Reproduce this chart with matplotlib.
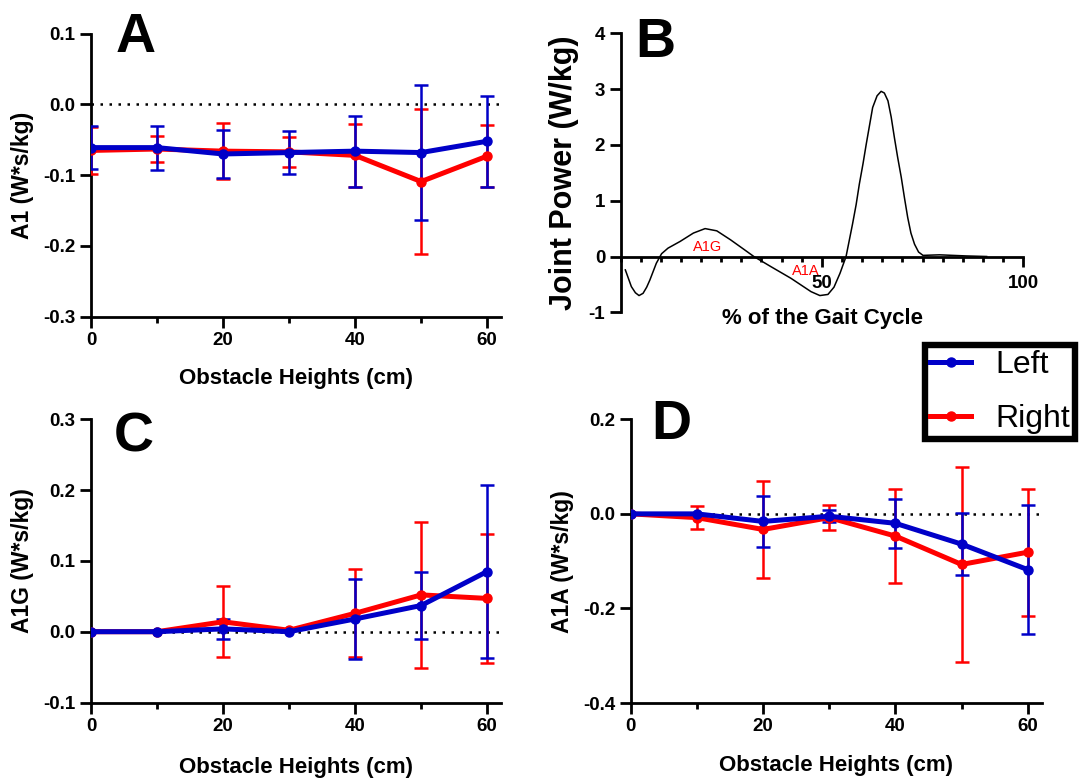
import matplotlib
matplotlib.use('Agg')
import matplotlib.pyplot as plt
from matplotlib.ticker import MultipleLocator, FormatStrFormatter

plt.rcParams['font.family'] = ['Liberation Sans', 'DejaVu Sans']
plt.rcParams['font.weight'] = 'bold'
plt.rcParams['axes.unicode_minus'] = False

# Obstacle heights (cm)
heights = [0, 10, 20, 30, 40, 50, 60]

# A1 ankle work (mean, SD)
a1_left = [-0.061, -0.061, -0.070, -0.068, -0.066, -0.068, -0.052]
a1_left_sd = [0.030, 0.031, 0.034, 0.031, 0.050, 0.095, 0.064]
a1_right = [-0.065, -0.063, -0.066, -0.067, -0.072, -0.109, -0.073]
a1_right_sd = [0.033, 0.018, 0.040, 0.021, 0.044, 0.103, 0.044]

# A1G generation phase
a1g_left = [0.0, 0.0, 0.004, 0.0, 0.018, 0.037, 0.085]
a1g_left_sd = [0.0, 0.0, 0.014, 0.0, 0.057, 0.047, 0.122]
a1g_right = [0.0, 0.0, 0.014, 0.002, 0.026, 0.052, 0.047]
a1g_right_sd = [0.0, 0.0, 0.050, 0.0, 0.062, 0.103, 0.091]

# A1A absorption phase
a1a_left = [0.0, 0.0, -0.016, -0.005, -0.020, -0.064, -0.118]
a1a_left_sd = [0.0, 0.0, 0.054, 0.013, 0.052, 0.066, 0.136]
a1a_right = [0.0, -0.008, -0.033, -0.008, -0.047, -0.107, -0.081]
a1a_right_sd = [0.0, 0.025, 0.103, 0.027, 0.099, 0.207, 0.134]

# Typical ankle joint power over the gait cycle
gait_pct = [1.2, 2.7, 3.7, 4.6, 5.6, 6.5, 7.3, 8.9, 10.2, 11.8, 14.8, 18.1,
            21.0, 23.9, 27.3, 30.6, 33.1, 37.3, 42.3, 47.3, 49.5, 51.5, 53.0,
            54.5, 56.0, 57.6, 58.5, 59.3, 60.2, 61.0, 62.6, 63.7, 64.7, 65.5,
            66.4, 67.2, 68.0, 68.8, 69.7, 70.5, 71.3, 72.1, 73.0, 74.0, 75.1,
            79.2, 85.9, 90.9]
joint_power = [-0.24, -0.54, -0.65, -0.70, -0.66, -0.55, -0.42, -0.12, 0.05,
               0.15, 0.27, 0.42, 0.50, 0.46, 0.30, 0.13, 0.0, -0.18, -0.39,
               -0.63, -0.70, -0.68, -0.55, -0.30, 0.0, 0.58, 0.93, 1.30, 1.66,
               2.01, 2.67, 2.88, 2.96, 2.93, 2.79, 2.50, 2.13, 1.78, 1.42,
               1.05, 0.70, 0.42, 0.22, 0.08, 0.02, 0.03, 0.01, 0.0]

BLUE = '#0000C8'
RED = '#FF0000'
W, H = 1079, 779

fig = plt.figure(figsize=(W / 100, H / 100), dpi=100)


def box(x0, x1, ytop, ybot):
    return [x0 / W, 1 - ybot / H, (x1 - x0) / W, (ybot - ytop) / H]


def style_axes(ax):
    for side in ['top', 'right']:
        ax.spines[side].set_visible(False)
    for side in ['left', 'bottom']:
        ax.spines[side].set_linewidth(2)
    ax.tick_params(which='major', length=8, width=2, labelsize=13.5, pad=3)
    ax.tick_params(which='minor', length=4.5, width=2)


def draw_series(ax, mean, sd, color):
    idx = [i for i, s in enumerate(sd) if s > 0]
    ax.errorbar([heights[i] for i in idx], [mean[i] for i in idx],
                yerr=[sd[i] for i in idx], fmt='none', ecolor=color,
                elinewidth=1.8, capsize=5, capthick=1.8, zorder=3)
    line, = ax.plot(heights, mean, color=color, lw=3.6, marker='o',
                    markersize=6.5, zorder=4)
    return line


def height_panel(rect, right, right_sd, left, left_sd, ylim, ystep, ylabel, ylab_x):
    ax = fig.add_axes(box(*rect))
    style_axes(ax)
    ax.axhline(0, color='black', lw=1.8, ls=(0, (1, 2.6)), zorder=1)
    r = draw_series(ax, right, right_sd, RED)
    l = draw_series(ax, left, left_sd, BLUE)
    ax.set_xlim(0, 62.1)
    ax.set_ylim(*ylim)
    ax.xaxis.set_major_locator(MultipleLocator(20))
    ax.xaxis.set_minor_locator(MultipleLocator(10))
    ax.yaxis.set_major_locator(MultipleLocator(ystep))
    ax.yaxis.set_major_formatter(FormatStrFormatter('%.1f'))
    x0, x1, ytop, ybot = rect
    fig.text(ylab_x / W, 1 - (ytop + ybot) / 2 / H, ylabel, rotation=90,
             ha='center', va='center', fontsize=16.5)
    return ax, l, r


# Panel A: A1
axA, l_line, r_line = height_panel((91, 501, 33.7, 316.7), a1_right, a1_right_sd,
                                   a1_left, a1_left_sd, (-0.3, 0.1), 0.1,
                                   'A1 (W*s/kg)', 23)
fig.text(296 / W, 1 - 384 / H, 'Obstacle Heights (cm)', ha='center',
         va='baseline', fontsize=16)

# Panel C: A1G
axC, _, _ = height_panel((91, 501, 419.3, 702.5), a1g_right, a1g_right_sd,
                         a1g_left, a1g_left_sd, (-0.1, 0.3), 0.1,
                         'A1G (W*s/kg)', 23)
fig.text(296 / W, 1 - 772.5 / H, 'Obstacle Heights (cm)', ha='center',
         va='baseline', fontsize=16)

# Panel D: A1A
axD, _, _ = height_panel((630.7, 1041.7, 419.3, 703), a1a_right, a1a_right_sd,
                         a1a_left, a1a_left_sd, (-0.4, 0.2), 0.2,
                         'A1A (W*s/kg)', 562)
fig.text(836 / W, 1 - 771 / H, 'Obstacle Heights (cm)', ha='center',
         va='baseline', fontsize=16)

# Panel B: joint power curve
axB = fig.add_axes(box(620.5, 1023.3, 33.3, 312.3))
style_axes(axB)
axB.spines['bottom'].set_position(('data', 0))
axB.plot(gait_pct, joint_power, color='black', lw=1.1, zorder=3)
axB.set_xlim(0, 100)
axB.set_ylim(-1, 4)
axB.set_xticks([50, 100])
axB.xaxis.set_minor_locator(MultipleLocator(5))
axB.tick_params(axis='x', which='major', length=7, pad=6)
axB.tick_params(axis='x', which='minor', length=3.5)
axB.set_yticks([-1, 0, 1, 2, 3, 4])
axB.text(21.5, 0.17, 'A1G', color=RED, fontsize=10.5, fontweight='normal',
         ha='center', va='center')
axB.text(46.1, -0.26, 'A1A', color=RED, fontsize=10.5, fontweight='normal',
         ha='center', va='center')
fig.text(564 / W, 1 - 172.5 / H, 'Joint Power (W/kg)', rotation=90,
         ha='center', va='center', fontsize=22)
fig.text(822 / W, 1 - 324 / H, '% of the Gait Cycle', ha='center',
         va='baseline', fontsize=16)

# Panel letters
for letter, x, y in [('A', 136, 52), ('B', 655, 57), ('C', 134, 451), ('D', 671, 439)]:
    fig.text(x / W, 1 - y / H, letter, fontsize=40, fontweight='bold',
             ha='center', va='baseline')

# Legend
leg = fig.legend([l_line, r_line], ['Left', 'Right'], loc='upper left',
                 bbox_to_anchor=(925 / W, 1 - 345 / H), borderaxespad=0,
                 prop={'size': 23, 'weight': 'normal'}, frameon=True,
                 fancybox=False, edgecolor='black', framealpha=1,
                 handlelength=1.3, handletextpad=0.75, labelspacing=0.77,
                 borderpad=0.15)
leg.get_frame().set_linewidth(4.6)

fig.savefig('out.png', dpi=100)
